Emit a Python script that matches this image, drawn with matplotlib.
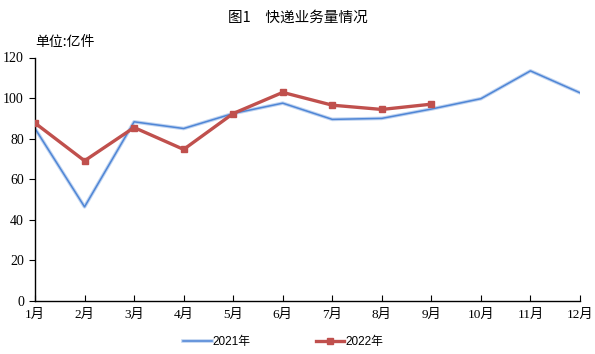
import matplotlib
matplotlib.use("Agg")
import matplotlib.pyplot as plt
import matplotlib.patheffects as pe

plt.rcParams['font.family'] = ['Liberation Serif', 'Noto Sans CJK SC']

months = ["1月", "2月", "3月", "4月", "5月", "6月", "7月", "8月", "9月", "10月", "11月", "12月"]
vol_2021 = [85.0, 46.4, 88.3, 85.0, 92.4, 97.5, 89.5, 90.0, 94.6, 99.7, 113.4, 102.6]
vol_2022 = [87.7, 69.1, 85.5, 74.7, 92.4, 102.8, 96.5, 94.4, 97.0]
yticks = [0, 20, 40, 60, 80, 100, 120]

fig = plt.figure(figsize=(5.95, 3.54), dpi=100)
ax = fig.add_axes([35 / 595, 1 - 301 / 354, 545 / 595, (301 - 57.5) / 354])

x21 = list(range(len(vol_2021)))
x22 = list(range(len(vol_2022)))
ax.plot(x21, vol_2021, color="#4F86D6", lw=1.1, label="2021年",
        path_effects=[pe.Stroke(linewidth=2.6, foreground="#BFD3F0"), pe.Normal()],
        zorder=2)
ax.plot(x22, vol_2022, color="#C0504D", lw=2.4, marker="s", ms=5,
        label="2022年", zorder=3)

ax.set_xlim(0, len(months) - 1)
ax.set_ylim(0, 120)
ax.set_xticks(x21)
ax.set_xticklabels(months, fontsize=9.5)
ax.set_yticks(yticks)
ax.set_yticklabels([str(v) for v in yticks], fontsize=10)
ax.tick_params(axis="x", direction="in", length=4, width=0.8, pad=6)
ax.tick_params(axis="y", direction="out", length=4, width=0.8, pad=4)
for s in ("top", "right"):
    ax.spines[s].set_visible(False)
for s in ("left", "bottom"):
    ax.spines[s].set_linewidth(1.0)
    ax.spines[s].set_color("black")

fig.text(0.5, 1 - 18 / 354, "图1　快递业务量情况", ha="center", va="center",
         fontsize=10.5, family=["Noto Sans CJK SC"])
fig.text(35 / 595, 1 - 42 / 354, "单位:亿件", ha="left", va="center",
         fontsize=10, family=["Noto Sans CJK SC"])

leg = fig.legend(loc="center", bbox_to_anchor=(0.476, 1 - 342 / 354), ncol=2,
                 frameon=False, handlelength=2.4,
                 columnspacing=5.5, handletextpad=0.1,
                 prop={"family": ["Liberation Sans", "Noto Sans CJK SC"], "size": 8.5})

fig.savefig("out.png", dpi=100)
